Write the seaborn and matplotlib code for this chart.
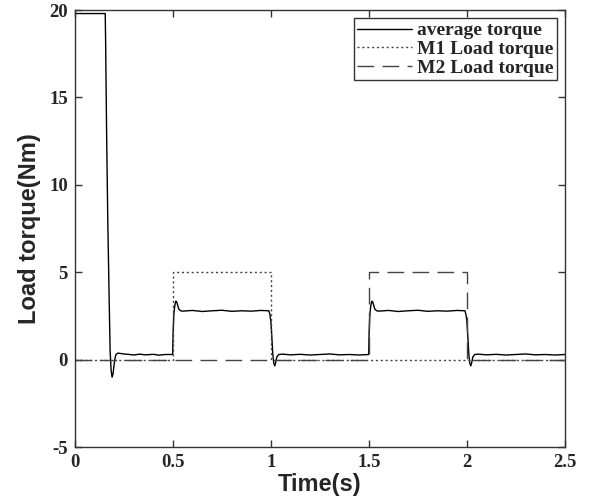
import numpy as np
import pandas as pd
import matplotlib
matplotlib.use("Agg")
import matplotlib.pyplot as plt
import seaborn as sns

# average torque (hand)
avg_t = [0.0, 0.155, 0.157, 0.162, 0.168, 0.175, 0.18, 0.185, 0.19, 0.195, 0.2, 0.205,
         0.21, 0.22, 0.25, 0.28, 0.3, 0.33, 0.36, 0.4, 0.43, 0.46, 0.499,
         0.501, 0.505, 0.51, 0.515, 0.52, 0.525, 0.53, 0.54, 0.55, 0.6, 0.65, 0.7,
         0.75, 0.8, 0.85, 0.9, 0.95, 0.99, 0.995, 1.0, 1.005, 1.01, 1.015, 1.02,
         1.025, 1.03, 1.04, 1.06, 1.1, 1.15, 1.2, 1.25, 1.3, 1.35, 1.4, 1.45, 1.499,
         1.501, 1.505, 1.51, 1.515, 1.52, 1.525, 1.53, 1.54, 1.55, 1.6, 1.65, 1.7,
         1.75, 1.8, 1.85, 1.9, 1.95, 1.99, 1.995, 2.0, 2.005, 2.01, 2.015, 2.02,
         2.025, 2.03, 2.04, 2.06, 2.1, 2.15, 2.2, 2.25, 2.3, 2.35, 2.4, 2.45, 2.5]
avg_y = [19.8, 19.8, 18.2, 13.0, 8.0, 3.5, 0.5, -0.6, -1.0, -0.8, -0.3, 0.1,
         0.3, 0.38, 0.33, 0.3, 0.27, 0.32, 0.28, 0.31, 0.26, 0.3, 0.3,
         1.5, 2.6, 3.1, 3.35, 3.3, 3.1, 2.9, 2.8, 2.78, 2.82, 2.76, 2.8,
         2.83, 2.77, 2.8, 2.78, 2.82, 2.8, 2.6, 2.2, 1.3, 0.3, -0.2, -0.35,
         -0.15, 0.15, 0.3, 0.32, 0.28, 0.31, 0.27, 0.3, 0.33, 0.28, 0.3, 0.27, 0.3,
         1.5, 2.6, 3.1, 3.35, 3.3, 3.1, 2.9, 2.8, 2.78, 2.82, 2.76, 2.8,
         2.83, 2.77, 2.8, 2.78, 2.82, 2.8, 2.6, 2.2, 1.3, 0.3, -0.2, -0.35,
         -0.15, 0.15, 0.3, 0.32, 0.28, 0.31, 0.27, 0.3, 0.33, 0.28, 0.3, 0.27, 0.3]

# motor load torques (step profiles)
m1_t = [0.0, 0.5, 0.5, 1.0, 1.0, 2.5]
m1_y = [0, 0, 5, 5, 0, 0]
m2_t = [0.0, 1.5, 1.5, 2.0, 2.0, 2.5]
m2_y = [0, 0, 5, 5, 0, 0]

x_ticks = [0, 0.5, 1, 1.5, 2, 2.5]
x_labels = ["0", "0.5", "1", "1.5", "2", "2.5"]
y_ticks = [-5, 0, 5, 10, 15, 20]
y_labels = ["-5", "0", "5", "10", "15", "20"]

sns.set_style("ticks")
plt.rcParams["font.family"] = ["Liberation Serif", "DejaVu Serif"]

fig = plt.figure(figsize=(5.94, 5.03), dpi=100)
ax = fig.add_axes([0.126, 0.111, 0.825, 0.869])

sns.lineplot(x=avg_t, y=avg_y, ax=ax, color="black", lw=1.0,
             estimator=None, sort=False, label="average torque")
sns.lineplot(x=m1_t, y=m1_y, ax=ax, color="#444444", lw=1.0,
             estimator=None, sort=False, label="M1 Load torque", linestyle=(0, (1.5, 2)))
sns.lineplot(x=m2_t, y=m2_y, ax=ax, color="#444444", lw=1.0,
             estimator=None, sort=False, label="M2 Load torque", linestyle=(0, (12, 6)))

ax.set_xlim(0, 2.5)
ax.set_ylim(-5, 20)
ax.set_xticks(x_ticks)
ax.set_xticklabels(x_labels, fontsize=13.5, fontweight="bold")
ax.set_yticks(y_ticks)
ax.set_yticklabels(y_labels, fontsize=13.5, fontweight="bold")
ax.tick_params(direction="in", length=5, width=1, top=True, right=True,
               color="#333333", pad=5)
for s in ax.spines.values():
    s.set_visible(True)
    s.set_color("#333333")
    s.set_linewidth(1.0)

ax.set_xlabel("Time(s)", fontsize=17, fontweight="bold",
              family="Liberation Sans", labelpad=1)
ax.set_ylabel("Load torque(Nm)", fontsize=17, fontweight="bold",
              family="Liberation Sans", labelpad=6)

leg = ax.legend(loc="upper right", prop={"weight": "bold", "size": 14},
                frameon=True, fancybox=False, handlelength=2.8, handletextpad=0.25,
                borderpad=0.2, labelspacing=0.05, borderaxespad=0.4)
leg.get_frame().set_edgecolor("black")
leg.get_frame().set_linewidth(1.0)

fig.savefig("out.png", dpi=100)
